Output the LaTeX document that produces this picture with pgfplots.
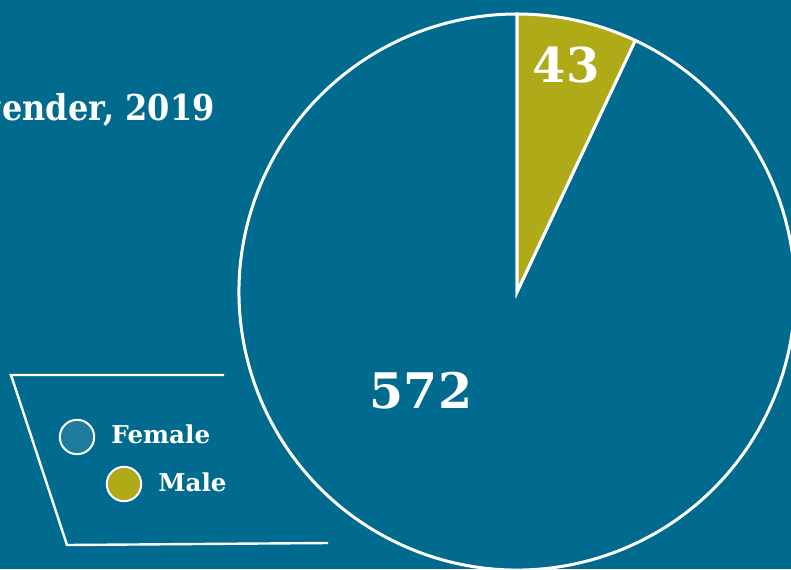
\documentclass[border=0pt]{standalone}
\usepackage{pgfplots}
\pgfplotsset{compat=1.18}
\usepackage{pgfplotstable}
\usepackage{fontspec}
\setmainfont{DejaVu Serif}
\definecolor{bg}{HTML}{006B8E}
\definecolor{male}{HTML}{AFAA18}
\definecolor{femkey}{HTML}{1F7B9C}

\pgfplotstableread{
label value
Female 572
Male 43
}\gendertable

\begin{document}
\begin{tikzpicture}
\pgfplotstablegetelem{0}{value}\of\gendertable \let\vF\pgfplotsretval
\pgfplotstablegetelem{1}{value}\of\gendertable \let\vM\pgfplotsretval
\pgfmathsetmacro{\endM}{90-360*\vM/(\vF+\vM)}
\begin{scope}
\clip (0,0) rectangle (395.5pt,284.5pt);
\begin{axis}[x=0.5pt, y=0.5pt, xmin=0, xmax=791, ymin=0, ymax=569,
  hide axis, anchor=south west, at={(0,0)}]
\fill[bg] (axis cs:0,0) rectangle (axis cs:791,569);
% title (cut off at the left edge)
\node[anchor=base east, text=white, font=\bfseries\fontsize{17.8}{20}\selectfont,
  inner sep=0pt, xscale=0.9] at (axis cs:215,449) {by gender, 2019};
% legend box
\draw[white, line width=1.2pt] (axis cs:224,194) -- (axis cs:11,194)
  -- (axis cs:67,24) -- (axis cs:328,26);
\filldraw[fill=femkey, draw=white, line width=1pt] (axis cs:77,132) circle[radius=8.6pt];
\filldraw[fill=male, draw=white, line width=1pt] (axis cs:124,85) circle[radius=8.6pt];
\node[anchor=base west, text=white, font=\bfseries\fontsize{12.3}{14}\selectfont, inner sep=0pt]
  at (axis cs:111,126) {Female};
\node[anchor=base west, text=white, font=\bfseries\fontsize{12.3}{14}\selectfont, inner sep=0pt]
  at (axis cs:158,78) {Male};
% pie
\filldraw[fill=bg, draw=white, line width=1.5pt] (axis cs:517,277) -- ++(\endM:139pt)
  arc[start angle=\endM, end angle=-270, radius=139pt] -- cycle;
\filldraw[fill=male, draw=white, line width=1.5pt] (axis cs:517,277) -- ++(90:139pt)
  arc[start angle=90, end angle=\endM, radius=139pt] -- cycle;
\node[anchor=base, text=white, font=\bfseries\fontsize{24.5}{27}\selectfont, inner sep=0pt]
  at (axis cs:421,161) {572};
\node[anchor=base, text=white, font=\bfseries\fontsize{24}{27}\selectfont, inner sep=0pt]
  at (axis cs:566,487) {43};
\end{axis}
\end{scope}
\end{tikzpicture}
\end{document}
